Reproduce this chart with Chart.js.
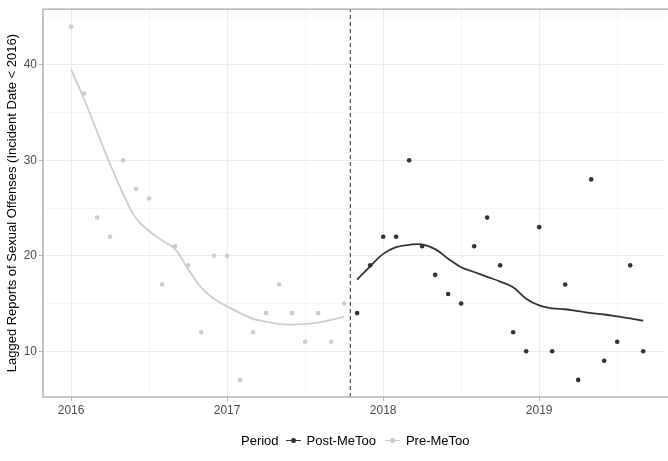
<!DOCTYPE html>
<html>
<head>
<meta charset="utf-8">
<script src="https://cdn.jsdelivr.net/npm/chart.js@4/dist/chart.umd.min.js"></script>
<style>
  html, body { margin: 0; padding: 0; background: #fff; }
  #wrap { position: relative; width: 668px; height: 461px; }
  #legend {
    position: absolute; left: 241px; top: 431px; height: 18px;
    display: flex; align-items: center;
    font-family: "Liberation Sans", Arial, sans-serif; font-size: 13px; color: #000;
  }
  .key { position: relative; width: 17px; height: 17px; margin: 0 5px; }
  .key .ln { position: absolute; left: 1px; right: 1px; top: 8px; height: 1.5px; }
  .key .dot { position: absolute; left: 6.5px; top: 6.5px; width: 4.5px; height: 4.5px; border-radius: 50%; }
</style>
</head>
<body>
<div id="wrap">
  <canvas id="chart" width="668" height="461"></canvas>
  <div id="legend">
    <span>Period</span>
    <span class="key" style="margin-left:6px"><span class="ln" style="background:#333"></span><span class="dot" style="background:#333"></span></span>
    <span>Post-MeToo</span>
    <span class="key" style="margin-left:8px"><span class="ln" style="background:#ccc"></span><span class="dot" style="background:#ccc"></span></span>
    <span>Pre-MeToo</span>
  </div>
</div>
<script>
// monthly counts, Jan 2016 - Oct 2017 (pre) and Nov 2017 - Sep 2019 (post)
const preMonths = ['2016-01','2016-02','2016-03','2016-04','2016-05','2016-06','2016-07','2016-08','2016-09','2016-10','2016-11','2016-12',
                   '2017-01','2017-02','2017-03','2017-04','2017-05','2017-06','2017-07','2017-08','2017-09','2017-10'];
const preCounts = [44, 37, 24, 22, 30, 27, 26, 17, 21, 19, 12, 20, 20, 7, 12, 14, 17, 14, 11, 14, 11, 15];
const preSmooth = [39.5, 36.4, 33.0, 29.6, 26.5, 23.9, 22.6, 21.6, 20.7, 18.6, 16.7, 15.5,
                   14.7, 14.0, 13.4, 13.1, 12.85, 12.8, 12.85, 13.0, 13.3, 13.6];

const postMonths = ['2017-11','2017-12','2018-01','2018-02','2018-03','2018-04','2018-05','2018-06','2018-07','2018-08','2018-09','2018-10',
                    '2018-11','2018-12','2019-01','2019-02','2019-03','2019-04','2019-05','2019-06','2019-07','2019-08','2019-09'];
const postCounts = [14, 19, 22, 22, 30, 21, 18, 16, 15, 21, 24, 19, 12, 10, 23, 10, 17, 7, 28, 9, 11, 19, 10];
const postSmooth = [17.5, 18.9, 20.2, 20.9, 21.15, 21.2, 20.7, 19.7, 18.8, 18.3, 17.8, 17.3,
                    16.7, 15.5, 14.8, 14.5, 14.4, 14.2, 14.0, 13.85, 13.65, 13.45, 13.2];

const metooDate = 2017.79; // mid-October 2017
const xTicks = [2016, 2016.5, 2017, 2017.5, 2018, 2018.5, 2019, 2019.5];
const yTicks = [10, 15, 20, 25, 30, 35, 40, 45];
const xRange = [2015.82, 2019.80];
const yRange = [5.21, 45.83];

function toYear(m) {
    const parts = m.split('-');
    return +parts[0] + (+parts[1] - 1) / 12;
}
function pts(months, vals) {
    return months.map((m, i) => ({x: toYear(m), y: vals[i]}));
}

const PRE = '#cccccc', POST = '#333333';
const isMajor = v => Number.isInteger(v);

const panelBorder = {
    id: 'panelBorder',
    afterDatasetsDraw(chart) {
        const a = chart.chartArea, ctx = chart.ctx;
        ctx.save();
        ctx.strokeStyle = '#b3b3b3';
        ctx.lineWidth = 1.5;
        ctx.strokeRect(a.left, a.top, a.right - a.left + 10, a.bottom - a.top);
        ctx.restore();
    }
};

new Chart(document.getElementById('chart').getContext('2d'), {
    type: 'scatter',
    data: {
        datasets: [
            {
                data: [{x: metooDate, y: yRange[0]}, {x: metooDate, y: yRange[1]}],
                showLine: true, borderColor: '#555', borderWidth: 1.3, borderDash: [4, 3],
                pointRadius: 0
            },
            {
                data: pts(preMonths, preSmooth), showLine: true,
                borderColor: PRE, borderWidth: 1.8, pointRadius: 0, tension: 0.4
            },
            {
                data: pts(preMonths, preCounts),
                backgroundColor: PRE, borderColor: PRE, pointRadius: 2.3, borderWidth: 0
            },
            {
                data: pts(postMonths, postSmooth), showLine: true,
                borderColor: POST, borderWidth: 1.8, pointRadius: 0, tension: 0.4
            },
            {
                data: pts(postMonths, postCounts),
                backgroundColor: POST, borderColor: POST, pointRadius: 2.3, borderWidth: 0
            }
        ]
    },
    options: {
        responsive: false,
        animation: false,
        layout: {padding: {left: 0, top: 7, right: 0, bottom: 40}},
        plugins: {legend: {display: false}, tooltip: {enabled: false}},
        scales: {
            x: {
                type: 'linear', min: xRange[0], max: xRange[1],
                afterBuildTicks: axis => { axis.ticks = xTicks.map(v => ({value: v})); },
                afterFit: scale => { scale.height = 24; },
                border: {display: false},
                grid: {
                    color: ctx => isMajor(ctx.tick.value) ? '#ebebeb' : '#f5f5f5',
                    lineWidth: 1,
                    tickColor: ctx => isMajor(ctx.tick.value) ? '#b3b3b3' : 'rgba(0,0,0,0)',
                    tickLength: 4
                },
                ticks: {
                    padding: 2, maxRotation: 0, autoSkip: false,
                    color: '#4d4d4d',
                    font: {family: '"Liberation Sans", Arial, sans-serif', size: 12},
                    callback: v => isMajor(v) ? String(v) : ''
                }
            },
            y: {
                min: yRange[0], max: yRange[1],
                afterBuildTicks: axis => { axis.ticks = yTicks.map(v => ({value: v})); },
                afterFit: scale => { scale.width = 43; },
                border: {display: false},
                grid: {
                    color: ctx => ctx.tick.value % 10 === 0 ? '#ebebeb' : '#f5f5f5',
                    lineWidth: 1,
                    tickColor: ctx => ctx.tick.value % 10 === 0 ? '#b3b3b3' : 'rgba(0,0,0,0)',
                    tickLength: 4
                },
                ticks: {
                    padding: 2, autoSkip: false,
                    color: '#4d4d4d',
                    font: {family: '"Liberation Sans", Arial, sans-serif', size: 12},
                    callback: v => v % 10 === 0 ? String(v) : ''
                },
                title: {
                    display: true,
                    text: 'Lagged Reports of Sexual Offenses (Incident Date < 2016)',
                    color: '#000',
                    font: {family: '"Liberation Sans", Arial, sans-serif', size: 13},
                    padding: {top: 5, bottom: 0}
                }
            }
        }
    },
    plugins: [panelBorder]
});
</script>
</body>
</html>
